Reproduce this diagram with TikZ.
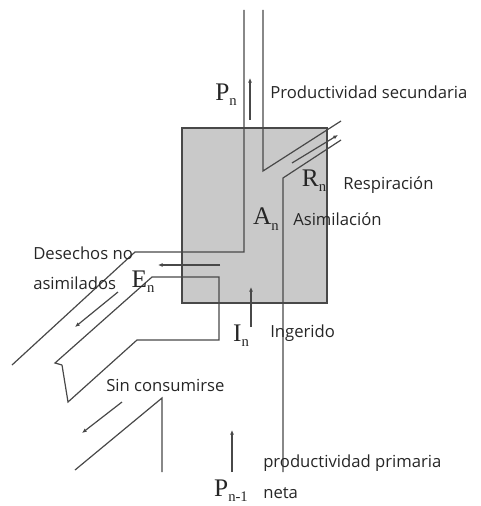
\documentclass[tikz,border=0pt]{standalone}
\usepackage{fontspec}
\setmainfont{Liberation Serif}
\newfontfamily\hand{Open Sans}
\usetikzlibrary{arrows.meta}
\definecolor{caja}{RGB}{201,201,201}
\definecolor{linea}{RGB}{72,72,72}
\tikzset{
  flujo/.style={draw=linea, line width=0.9pt},
  flecha/.style={draw=linea, line width=0.9pt, -{Latex[length=3.5pt,width=3pt]}},
  texto/.style={font=\hand\fontsize{12.5}{14}\selectfont, anchor=west, inner sep=0pt, text=black!85},
  sim/.style={inner sep=0pt, text=black!85}
}
% letra grande con subindice
\newcommand{\simb}[2]{{\fontsize{19}{19}\selectfont #1}\raisebox{-4pt}{\fontsize{11}{11}\selectfont #2}}
\begin{document}
\begin{tikzpicture}[x=0.75pt,y=-0.75pt]
\useasboundingbox (0,0) rectangle (481,506);
%
% caja del nivel trofico
\draw[fill=caja, draw=linea, line width=0.9pt] (182,128) rectangle (327,303);
%
% canales
\draw[flujo] (244,10) -- (244,252) -- (135,252) -- (12,365);
\draw[flujo] (263,10) -- (263,171) -- (341,121);
\draw[flujo] (341,140) -- (283,178) -- (283,472);
\draw[flujo] (62,365) -- (55,363) -- (152,277) -- (219,277) -- (219,340) -- (137,340) -- (68,402) -- (62,365);
\draw[flujo] (75,470) -- (162,398) -- (162,472);
%
% puntos de las flechas
\coordinate (1a) at (250,120); \coordinate (1b) at (250,78);
\coordinate (2a) at (292,163); \coordinate (2b) at (338,135);
\coordinate (3a) at (220,265); \coordinate (3b) at (158,265);
\coordinate (4a) at (118,292); \coordinate (4b) at (75,327);
\coordinate (5a) at (251,327); \coordinate (5b) at (251,287);
\coordinate (6a) at (232,472); \coordinate (6b) at (232,430);
\coordinate (7a) at (122,402); \coordinate (7b) at (82,433);
%
\draw[flecha] (1a) to (1b);
\draw[flecha] (2a) to (2b);
\draw[flecha] (3a) to (3b);
\draw[flecha] (4a) to (4b);
\draw[flecha] (5a) to (5b);
\draw[flecha] (6a) to (6b);
\draw[flecha] (7a) to (7b);
%
% simbolos
\node[sim] (Pn) at (226,95) {\simb{P}{n}};
\node[sim] (Rn) at (314,181) {\simb{R}{n}};
\node[sim] (An) at (266,219) {\simb{A}{n}};
\node[sim] (En) at (143,282) {\simb{E}{n}};
\node[sim] (In) at (241,336) {\simb{I}{n}};
\node[sim] (Pn1) at (231,491) {\simb{P}{n-1}};
%
% textos
\node[texto] (t1) at (270,92) {Productividad secundaria};
\node[texto] (t2) at (343,185) {Respiración};
\node[texto] (t3) at (293,219) {Asimilación};
\node[texto] (t4) at (33,253) {Desechos no};
\node[texto] (t5) at (33,283) {asimilados};
\node[texto] (t6) at (270,333) {Ingerido};
\node[texto] (t7) at (106,385) {Sin consumirse};
\node[texto] (t8) at (263,463) {productividad primaria};
\node[texto] (t9) at (263,493) {neta};
%
\end{tikzpicture}
\end{document}
